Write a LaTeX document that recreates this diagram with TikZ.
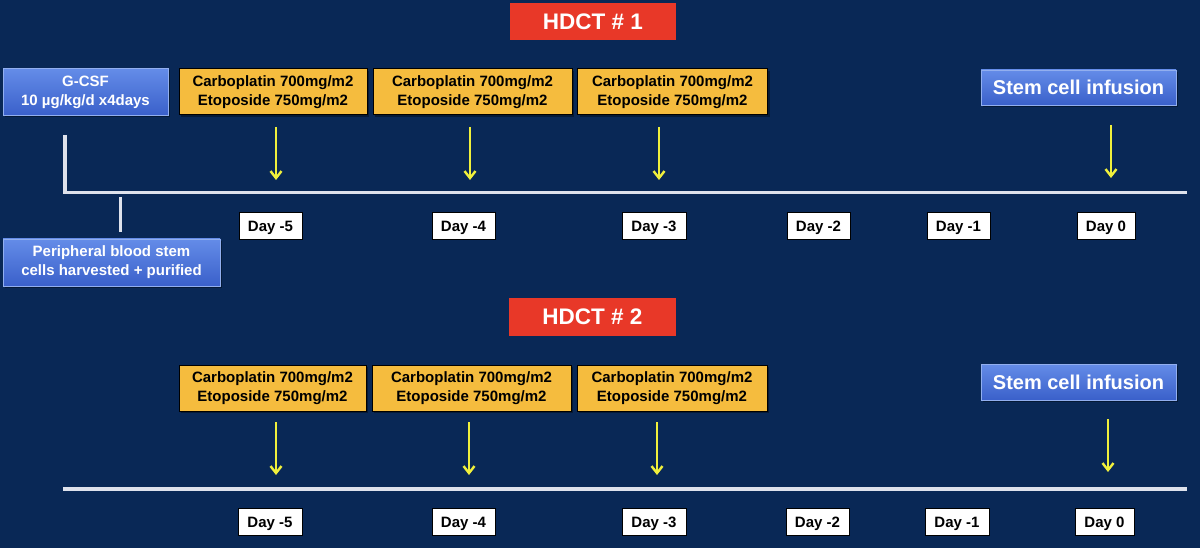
\documentclass[tikz,border=0pt]{standalone}
\usepackage{fontspec}
\setmainfont{Liberation Sans}
\usetikzlibrary{arrows.meta,shadows}
\definecolor{bg}{RGB}{9,40,86}
\definecolor{hdred}{RGB}{232,56,40}
\definecolor{drug}{RGB}{245,188,62}
\definecolor{bluetop}{RGB}{100,140,232}
\definecolor{bluebot}{RGB}{58,96,202}
\definecolor{tl}{RGB}{222,226,236}
\definecolor{arr}{RGB}{240,240,60}
\tikzset{
  hd/.style={fill=hdred, text=white, font=\bfseries\fontsize{22.5}{26}\selectfont, inner sep=0pt},
  drugbox/.style={fill=drug, draw=black, line width=1pt, text=black, align=center,
    font=\bfseries\fontsize{15}{19}\selectfont, inner sep=0pt,
    drop shadow={shadow xshift=2pt, shadow yshift=-2pt, fill=black, opacity=0.35}},
  bluebox/.style={top color=bluetop, bottom color=bluebot, draw=bluetop!70!white, line width=0.6pt,
    text=white, align=center, font=\bfseries\fontsize{15}{19}\selectfont, inner sep=0pt,
    drop shadow={shadow xshift=2pt, shadow yshift=-2pt, fill=black, opacity=0.35}},
  daybox/.style={fill=white, draw=black, line width=0.5pt, text=black,
    font=\bfseries\fontsize{15}{17}\selectfont, inner sep=0pt, text height=11pt, text depth=0pt},
  tline/.style={draw=tl, line width=3.5pt},
  yarrow/.style={draw=arr, line width=2pt, -{Straight Barb[length=7pt,width=11pt,line width=2.4pt]}}
}
\begin{document}
\begin{tikzpicture}[x=1pt,y=-1pt]
\fill[bg] (0,0) rectangle (1200,548);
\useasboundingbox (0,0) rectangle (1200,548);

% ---------- HDCT 1 ----------
\node[hd, minimum width=166pt, minimum height=37pt] (h1) at (593,21.5) {HDCT \# 1};

\node[bluebox, minimum width=165pt, minimum height=47pt] (gcsf) at (85.5,92) {G-CSF\\10 µg/kg/d x4days};
\node[bluebox, minimum width=217pt, minimum height=47pt] (pb) at (111.5,262.5) {Peripheral blood stem\\cells harvested + purified};

\node[drugbox, minimum width=188pt, minimum height=46pt] (a1) at (273,92) {Carboplatin 700mg/m2\\Etoposide 750mg/m2};
\node[drugbox, minimum width=199pt, minimum height=46pt] (a2) at (472.5,92) {Carboplatin 700mg/m2\\Etoposide 750mg/m2};
\node[drugbox, minimum width=190pt, minimum height=46pt] (a3) at (672.5,92) {Carboplatin 700mg/m2\\Etoposide 750mg/m2};
\node[bluebox, minimum width=195pt, minimum height=35pt, font=\bfseries\fontsize{20}{22}\selectfont] (s1) at (1078.5,87.5) {Stem cell infusion};

\coordinate (t1s) at (63,192.5);
\coordinate (t1e) at (1187,192.5);
\coordinate (g1) at (65,135);
\coordinate (p1) at (120,197);
\coordinate (p2) at (120,232);
\draw[tline] (t1s) -- (t1e);
\draw[tline] (g1) -- (65,192.5);
\draw[tline, line width=3pt] (p1) -- (p2);

\coordinate (r1a) at (276,127); \coordinate (r1b) at (276,180);
\coordinate (r2a) at (470,127); \coordinate (r2b) at (470,180);
\coordinate (r3a) at (659,127); \coordinate (r3b) at (659,180);
\coordinate (r4a) at (1111,125); \coordinate (r4b) at (1111,178);
\draw[yarrow] (r1a) -- (r1b);
\draw[yarrow] (r2a) -- (r2b);
\draw[yarrow] (r3a) -- (r3b);
\draw[yarrow] (r4a) -- (r4b);

\node[daybox, minimum width=63pt, minimum height=27pt] (d15) at (270.5,226) {Day -5};
\node[daybox, minimum width=63pt, minimum height=27pt] (d14) at (463.5,226) {Day -4};
\node[daybox, minimum width=64pt, minimum height=27pt] (d13) at (654,226) {Day -3};
\node[daybox, minimum width=63pt, minimum height=27pt] (d12) at (818.5,226) {Day -2};
\node[daybox, minimum width=63pt, minimum height=27pt] (d11) at (958.5,226) {Day -1};
\node[daybox, minimum width=58pt, minimum height=27pt] (d10) at (1106,226) {Day 0};

% ---------- HDCT 2 ----------
\node[hd, minimum width=167pt, minimum height=38pt] (h2) at (592.5,317) {HDCT \# 2};

\node[drugbox, minimum width=187pt, minimum height=46pt] (b1) at (272.5,388) {Carboplatin 700mg/m2\\Etoposide 750mg/m2};
\node[drugbox, minimum width=199pt, minimum height=46pt] (b2) at (471.5,388) {Carboplatin 700mg/m2\\Etoposide 750mg/m2};
\node[drugbox, minimum width=190pt, minimum height=46pt] (b3) at (672,388) {Carboplatin 700mg/m2\\Etoposide 750mg/m2};
\node[bluebox, minimum width=195pt, minimum height=36pt, font=\bfseries\fontsize{20}{22}\selectfont] (s2) at (1078.5,382) {Stem cell infusion};

\coordinate (t2s) at (63,489);
\coordinate (t2e) at (1187,489);
\draw[tline] (t2s) -- (t2e);

\coordinate (q1a) at (276,422); \coordinate (q1b) at (276,475);
\coordinate (q2a) at (469,422); \coordinate (q2b) at (469,475);
\coordinate (q3a) at (657,422); \coordinate (q3b) at (657,475);
\coordinate (q4a) at (1108,419); \coordinate (q4b) at (1108,472);
\draw[yarrow] (q1a) -- (q1b);
\draw[yarrow] (q2a) -- (q2b);
\draw[yarrow] (q3a) -- (q3b);
\draw[yarrow] (q4a) -- (q4b);

\node[daybox, minimum width=64pt, minimum height=27pt] (d25) at (270,522) {Day -5};
\node[daybox, minimum width=63pt, minimum height=27pt] (d24) at (463.5,522) {Day -4};
\node[daybox, minimum width=64pt, minimum height=27pt] (d23) at (654,522) {Day -3};
\node[daybox, minimum width=63pt, minimum height=27pt] (d22) at (817.5,521.5) {Day -2};
\node[daybox, minimum width=64pt, minimum height=27pt] (d21) at (957,521.5) {Day -1};
\node[daybox, minimum width=59pt, minimum height=27pt] (d20) at (1104.5,521.5) {Day 0};
\end{tikzpicture}
\end{document}
